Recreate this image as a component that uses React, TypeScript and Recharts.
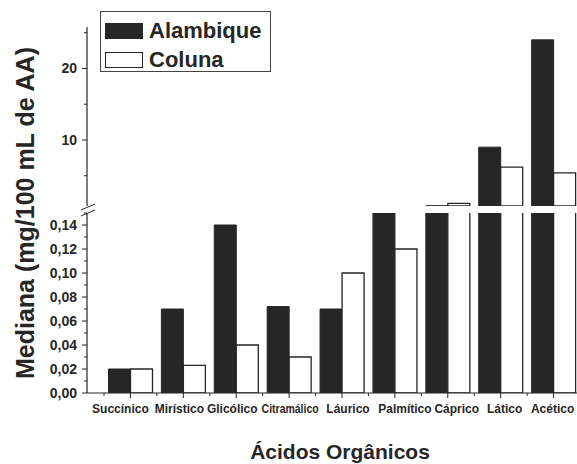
import React from "react";
import { BarChart, Bar, XAxis, YAxis, Legend } from "recharts";

const categories = ["Succínico", "Mirístico", "Glicólico", "Citramálico", "Láurico", "Palmítico", "Cáprico", "Lático", "Acético"];
const alambique = [0.02, 0.07, 0.14, 0.072, 0.07, 0.15, 0.8, 9.0, 24.0];
const coluna = [0.02, 0.023, 0.04, 0.03, 0.1, 0.12, 1.15, 6.2, 5.4];

const lowerTicks = [0, 0.01, 0.02, 0.03, 0.04, 0.05, 0.06, 0.07, 0.08, 0.09, 0.1, 0.11, 0.12, 0.13, 0.14, 0.15];
const upperTicks = [5, 10, 15, 20, 25];

// broken axis: two panels
const LOWER_MAX = 0.15;
const UPPER_MIN = 0.77;
const UPPER_MAX = 25.8;

const W = 580;
const Y_W = 87;
const PAD_L = 17;
const STEP = (W - Y_W - PAD_L) / categories.length;
const INK = "#262626";
const FONT = '"Liberation Sans", Arial, Helvetica, sans-serif';
// the original labels are not quite centred under their ticks
const labelShift = [-10, -4, -4, 1, 6, 10, 9, 4, -1];

const lowerData = categories.map((name, i) => ({ name, alambique: alambique[i], coluna: coluna[i] }));
const upperData = categories.map((name, i) => ({
  name,
  alambique: alambique[i] > UPPER_MIN ? alambique[i] : null,
  coluna: coluna[i] > UPPER_MIN ? coluna[i] : null,
}));

const makeYTick = (isMajor: (v: number) => boolean, fmt: (v: number) => string) => (props: any) => {
  const { x, y, payload } = props;
  const v = payload.value;
  const major = isMajor(v);
  return (
    <g>
      <line x1={x - (major ? 5 : 3)} x2={x} y1={y} y2={y} stroke={INK} strokeWidth={1} />
      {major && (
        <text x={x - 10} y={y} dy={5} textAnchor="end" fontSize={14} fontWeight="bold" fontFamily={FONT} fill={INK}>
          {fmt(v)}
        </text>
      )}
    </g>
  );
};

const lowerTick = makeYTick(
  (v) => Math.round(v * 100) % 2 === 0,
  (v) => v.toFixed(2).replace(".", ",")
);
const upperTick = makeYTick(
  (v) => v % 10 === 0,
  (v) => String(v)
);

const XTick = (props: any) => {
  const { x, y, payload, index } = props;
  const half = STEP / 2;
  const long = String(payload.value).length > 10;
  return (
    <g>
      <line x1={x} x2={x} y1={y} y2={y + 5} stroke={INK} strokeWidth={1} />
      <line x1={x - half} x2={x - half} y1={y} y2={y + 3} stroke={INK} strokeWidth={1} />
      {index === categories.length - 1 && (
        <line x1={x + half} x2={x + half} y1={y} y2={y + 3} stroke={INK} strokeWidth={1} />
      )}
      <text
        x={x + (labelShift[index] || 0)}
        y={y + 20}
        textAnchor="middle"
        fontSize={12}
        fontWeight="bold"
        fontFamily={FONT}
        fill={INK}
        {...(long ? { textLength: 57, lengthAdjust: "spacingAndGlyphs" } : {})}
      >
        {payload.value}
      </text>
    </g>
  );
};

const LegendBox = (props: any) => {
  const items = props.payload || [];
  return (
    <svg width={171} height={61} style={{ display: "block" }}>
      <rect x={0.5} y={0.5} width={170} height={60} fill="#fff" stroke="#444" strokeWidth={1} />
      {items.map((it: any, i: number) => (
        <g key={it.value}>
          <rect x={5.5} y={12.5 + i * 29} width={37} height={15} fill={it.color} stroke={INK} strokeWidth={1} />
          <text x={49} y={27 + i * 29} fontSize={22} fontWeight="bold" fontFamily={FONT} fill={INK}>
            {it.value}
          </text>
        </g>
      ))}
    </svg>
  );
};

export default function App() {
  return (
    <div style={{ position: "absolute", left: 0, top: 0, width: 577, height: 464, overflow: "hidden", background: "#fff" }}>
      <div style={{ position: "absolute", left: 0, top: 0 }}>
        <BarChart width={W} height={464} data={lowerData} margin={{ top: 213, right: 0, bottom: 0, left: 0 }} barCategoryGap={4.5} barGap={0}>
          <XAxis
            dataKey="name"
            height={71}
            padding={{ left: PAD_L, right: 0 }}
            interval={0}
            tickLine={false}
            tickSize={0}
            tickMargin={0}
            axisLine={{ stroke: INK, strokeWidth: 1.2 }}
            tick={XTick}
            label={{
              content: () => (
                <text x={340} y={459} textAnchor="middle" fontSize={21} fontWeight="bold" fontFamily={FONT} fill={INK}>
                  Ácidos Orgânicos
                </text>
              ),
            }}
          />
          <YAxis
            width={Y_W}
            domain={[0, LOWER_MAX]}
            ticks={lowerTicks}
            allowDataOverflow
            interval={0}
            tickLine={false}
            tickSize={0}
            tickMargin={0}
            axisLine={{ stroke: INK, strokeWidth: 1.2 }}
            tick={lowerTick}
            label={{
              content: () => (
                <text
                  x={34}
                  y={213}
                  transform="rotate(-90 34 213)"
                  textAnchor="middle"
                  fontSize={25}
                  fontWeight="bold"
                  fontFamily={FONT}
                  fill={INK}
                >
                  Mediana (mg/100 mL de AA)
                </text>
              ),
            }}
          />
          <Bar dataKey="alambique" name="Alambique" fill={INK} stroke={INK} strokeWidth={1} isAnimationActive={false} />
          <Bar dataKey="coluna" name="Coluna" fill="#fff" stroke={INK} strokeWidth={1.3} isAnimationActive={false} />
        </BarChart>
      </div>
      <div style={{ position: "absolute", left: 0, top: 0 }}>
        <BarChart width={W} height={206} data={upperData} margin={{ top: 27, right: 0, bottom: 0, left: 0 }} barCategoryGap={4.5} barGap={0}>
          <XAxis dataKey="name" hide padding={{ left: PAD_L, right: 0 }} />
          <YAxis
            width={Y_W}
            domain={[UPPER_MIN, UPPER_MAX]}
            ticks={upperTicks}
            allowDataOverflow
            interval={0}
            tickLine={false}
            tickSize={0}
            tickMargin={0}
            axisLine={{ stroke: INK, strokeWidth: 1.2 }}
            tick={upperTick}
          />
          <Legend
            layout="horizontal"
            verticalAlign="middle"
            align="center"
            wrapperStyle={{ left: 100, top: 11, width: 171, height: 61 }}
            content={LegendBox}
          />
          <Bar dataKey="alambique" name="Alambique" fill={INK} stroke={INK} strokeWidth={1} isAnimationActive={false} />
          <Bar dataKey="coluna" name="Coluna" fill="#fff" stroke={INK} strokeWidth={1.3} isAnimationActive={false} />
        </BarChart>
      </div>
      <svg width={577} height={464} style={{ position: "absolute", left: 0, top: 0, pointerEvents: "none" }}>
        <line x1={81} y1={210} x2={95} y2={204} stroke={INK} strokeWidth={1} />
        <line x1={81} y1={216} x2={95} y2={210} stroke={INK} strokeWidth={1} />
      </svg>
    </div>
  );
}
